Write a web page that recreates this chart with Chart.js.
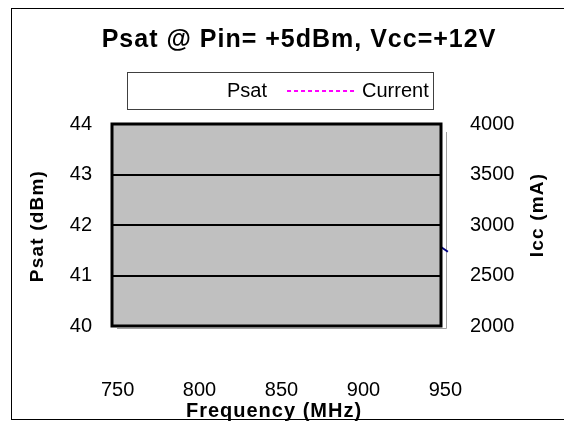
<!DOCTYPE html>
<html>
<head>
<meta charset="utf-8">
<script src="https://cdn.jsdelivr.net/npm/chart.js@4"></script>
<style>
  html, body { margin: 0; padding: 0; background: #fff; }
  #wrap { width: 564px; height: 421px; }
</style>
</head>
<body>
<div id="wrap"><canvas id="myChart" width="564" height="421"></canvas></div>
<script>
// chart texts
const chartTitle = 'Psat @ Pin= +5dBm, Vcc=+12V';
const xTitle = 'Frequency (MHz)';
const yTitle = 'Psat (dBm)';
const y1Title = 'Icc (mA)';

// tick labels
const freqTicks = [750, 800, 850, 900, 950];
const psatTicks = [40, 41, 42, 43, 44];
const iccTicks = [2000, 2500, 3000, 3500, 4000];

// series (only a tiny bit of Psat shows, at the right edge)
const psatFreq = [947.5, 951.5];
const psatDbm = [41.56, 41.47];
const currentFreq = [];
const currentMa = [];

const FONT = 'Liberation Sans, Arial, sans-serif';

// background, outer frame, grey plot fill
const framePlugin = {
  id: 'frame',
  beforeDraw: (chart) => {
    const ctx = chart.ctx;
    const { top, left, right, bottom } = chart.chartArea;
    ctx.save();
    ctx.fillStyle = '#fff';
    ctx.fillRect(0, 0, chart.width, chart.height);
    ctx.strokeStyle = '#000';
    ctx.lineWidth = 1;
    ctx.strokeRect(11.5, 8.5, 700, 411);
    ctx.fillStyle = '#c0c0c0';
    ctx.fillRect(left, top, right - left, bottom - top);
    // shadow of plot area
    ctx.strokeStyle = '#a0a0a0';
    ctx.lineWidth = 1;
    ctx.beginPath();
    ctx.moveTo(right + 5.5, top + 8);
    ctx.lineTo(right + 5.5, bottom + 2.5);
    ctx.lineTo(left + 5, bottom + 2.5);
    ctx.stroke();
    ctx.restore();
  },
  afterDraw: (chart) => {
    const ctx = chart.ctx;
    const { top, left, right, bottom } = chart.chartArea;
    ctx.save();
    // plot box
    ctx.strokeStyle = '#000';
    ctx.lineWidth = 3;
    ctx.strokeRect(left, top, right - left, bottom - top);

    ctx.fillStyle = '#000';
    // title
    ctx.font = 'bold 25px ' + FONT;
    ctx.letterSpacing = '1px';
    ctx.textAlign = 'center';
    ctx.textBaseline = 'alphabetic';
    ctx.fillText(chartTitle, 299, 47);

    // axis titles
    ctx.font = 'bold 20px ' + FONT;
    ctx.letterSpacing = '1px';
    ctx.fillText(xTitle, 274, 417);

    ctx.font = 'bold 19px ' + FONT;
    ctx.letterSpacing = '1.2px';
    ctx.textBaseline = 'middle';
    ctx.translate(38, 226);
    ctx.rotate(-Math.PI / 2);
    ctx.fillText(yTitle, 0, 0);
    ctx.setTransform(1, 0, 0, 1, 0, 0);
    ctx.translate(538, 215);
    ctx.rotate(-Math.PI / 2);
    ctx.fillText(y1Title, 0, 0);
    ctx.setTransform(1, 0, 0, 1, 0, 0);

    // legend box
    ctx.letterSpacing = '0px';
    ctx.lineWidth = 1;
    ctx.strokeStyle = '#404040';
    ctx.fillStyle = '#fff';
    ctx.fillRect(127.5, 72.5, 306, 37);
    ctx.strokeRect(127.5, 72.5, 306, 37);
    ctx.font = '20px ' + FONT;
    ctx.textAlign = 'left';
    ctx.textBaseline = 'middle';
    const cy = 91;
    let x = 152;
    chart.data.datasets.forEach((ds) => {
      ctx.strokeStyle = ds.legendColor;
      ctx.lineWidth = 2;
      ctx.setLineDash(ds.borderDash || []);
      ctx.beginPath();
      ctx.moveTo(x, cy);
      ctx.lineTo(x + 68, cy);
      ctx.stroke();
      ctx.setLineDash([]);
      ctx.fillStyle = '#000';
      ctx.fillText(ds.label, x + 75, cy);
      x += 75 + ctx.measureText(ds.label).width + 20;
    });
    ctx.restore();
  }
};

const ctx = document.getElementById('myChart').getContext('2d');
const chart = new Chart(ctx, {
  type: 'line',
  data: {
    datasets: [
      {
        label: 'Psat',
        data: psatFreq.map((f, i) => ({ x: f, y: psatDbm[i] })),
        borderColor: '#000080',
        legendColor: '#ffffff',
        borderWidth: 2,
        pointRadius: 0,
        clip: false,
        yAxisID: 'y'
      },
      {
        label: 'Current',
        data: currentFreq.map((f, i) => ({ x: f, y: currentMa[i] })),
        borderColor: '#ff00ff',
        legendColor: '#ff00ff',
        borderDash: [4, 3],
        borderWidth: 2,
        pointRadius: 0,
        yAxisID: 'y1'
      }
    ]
  },
  options: {
    responsive: false,
    animation: false,
    events: [],
    layout: { padding: { top: 124, left: 0, right: 0, bottom: 0 } },
    plugins: {
      legend: { display: false },
      title: { display: false },
      tooltip: { enabled: false }
    },
    scales: {
      x: {
        type: 'linear',
        position: 'bottom',
        min: 746.6,
        max: 947.3,
        afterBuildTicks: (scale) => {
          scale.ticks = freqTicks.map(v => ({ value: v }));
        },
        afterFit: (scale) => { scale.height = 95; },
        grid: { display: false },
        border: { display: false },
        ticks: {
          autoSkip: false,
          maxRotation: 0,
          padding: 44,
          color: '#000',
          font: { family: FONT, size: 20 }
        }
      },
      y: {
        position: 'left',
        min: psatTicks[0],
        max: psatTicks[psatTicks.length - 1],
        afterBuildTicks: (scale) => {
          scale.ticks = psatTicks.map(v => ({ value: v }));
        },
        afterFit: (scale) => { scale.width = 112; },
        grid: { color: '#000', lineWidth: 2, drawTicks: false },
        border: { display: false },
        ticks: {
          padding: 20,
          color: '#000',
          font: { family: FONT, size: 20 }
        }
      },
      y1: {
        position: 'right',
        min: iccTicks[0],
        max: iccTicks[iccTicks.length - 1],
        afterBuildTicks: (scale) => {
          scale.ticks = iccTicks.map(v => ({ value: v }));
        },
        afterFit: (scale) => { scale.width = 123; },
        grid: { display: false, drawTicks: false },
        border: { display: false },
        ticks: {
          padding: 29,
          color: '#000',
          font: { family: FONT, size: 20 },
          callback: (v) => String(v)
        }
      }
    }
  },
  plugins: [framePlugin]
});
</script>
</body>
</html>
